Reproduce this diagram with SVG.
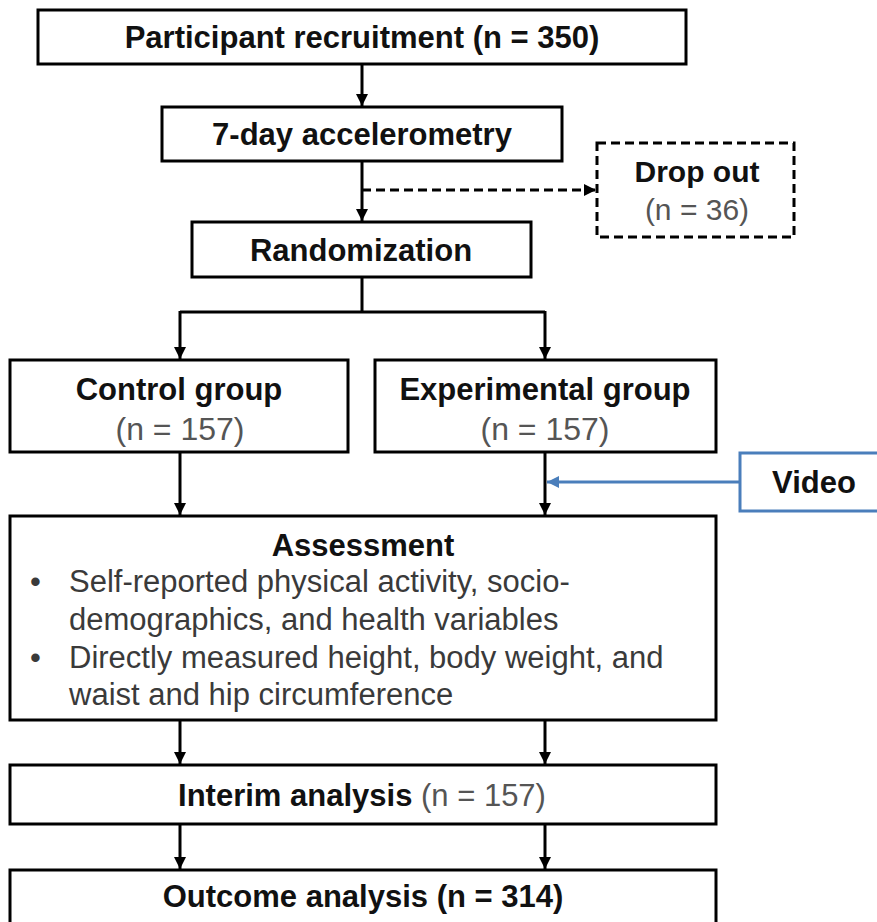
<svg xmlns="http://www.w3.org/2000/svg" width="877" height="922" viewBox="0 0 877 922">
<style>
.box{fill:#fff;stroke:#000;stroke-width:3}
.dash{fill:#fff;stroke:#000;stroke-width:3;stroke-dasharray:9 5}
.blue{fill:#fff;stroke:#4a7ebb;stroke-width:3}
.t{font-family:"Liberation Sans",Arial,sans-serif;font-weight:bold;font-size:31px;fill:#111;text-anchor:middle}
.g{font-family:"Liberation Sans",Arial,sans-serif;font-weight:normal;font-size:32px;fill:#555;text-anchor:middle}
.b{font-family:"Liberation Sans",Arial,sans-serif;font-size:31px;fill:#3a3a3a}
.c{fill:none;stroke:#000;stroke-width:3}
.cd{fill:none;stroke:#000;stroke-width:3;stroke-dasharray:9 5}
.cb{fill:none;stroke:#4a7ebb;stroke-width:3}
</style>
<defs>
<marker id="ah" markerUnits="userSpaceOnUse" markerWidth="12" markerHeight="14" refX="12" refY="6" orient="auto" viewBox="0 0 12 12">
<path d="M0,0 L12,6 L0,12 Z" fill="#000"/>
</marker>
<marker id="ahb" markerUnits="userSpaceOnUse" markerWidth="12" markerHeight="14" refX="12" refY="6" orient="auto" viewBox="0 0 12 12">
<path d="M0,0 L12,6 L0,12 Z" fill="#4a7ebb"/>
</marker>
</defs>
<g id="connectors">
<path class="c" d="M362,64 V106" marker-end="url(#ah)"/>
<path class="c" d="M362,161 V221" marker-end="url(#ah)"/>
<path class="cd" d="M362,190 H596" marker-end="url(#ah)"/>
<path class="c" d="M362,277 V312 M180,312 H545"/>
<path class="c" d="M180,311 V359" marker-end="url(#ah)"/>
<path class="c" d="M545,311 V359" marker-end="url(#ah)"/>
<path class="c" d="M180,452 V515" marker-end="url(#ah)"/>
<path class="c" d="M545,452 V515" marker-end="url(#ah)"/>
<path class="cb" d="M740,482 H547" marker-end="url(#ahb)"/>
<path class="c" d="M180,720 V764" marker-end="url(#ah)"/>
<path class="c" d="M545,720 V764" marker-end="url(#ah)"/>
<path class="c" d="M180,824 V869" marker-end="url(#ah)"/>
<path class="c" d="M545,824 V869" marker-end="url(#ah)"/>
</g>
<g id="recruitment">
<rect class="box" x="38" y="10" width="648" height="54"/>
<text class="t" x="362" y="48">Participant recruitment (n = 350)</text>
</g>
<g id="accelerometry">
<rect class="box" x="162" y="107" width="400" height="54"/>
<text class="t" x="362" y="145">7-day accelerometry</text>
</g>
<g id="dropout">
<rect class="dash" x="597" y="143" width="197" height="94"/>
<text class="t" x="697" y="182" style="font-size:30px">Drop out</text>
<text class="g" x="697" y="220" style="font-size:30px">(n = 36)</text>
</g>
<g id="randomization">
<rect class="box" x="192" y="222" width="339" height="55"/>
<text class="t" x="361" y="261">Randomization</text>
</g>
<g id="control">
<rect class="box" x="10" y="360" width="338" height="92"/>
<text class="t" x="179" y="400">Control group</text>
<text class="g" x="180" y="440">(n = 157)</text>
</g>
<g id="experimental">
<rect class="box" x="375" y="360" width="341" height="92"/>
<text class="t" x="545" y="400">Experimental group</text>
<text class="g" x="545" y="440">(n = 157)</text>
</g>
<g id="video">
<rect class="blue" x="740" y="453" width="160" height="58"/>
<text class="t" x="814" y="493">Video</text>
</g>
<g id="assessment">
<rect class="box" x="10" y="516" width="706" height="204"/>
<text class="t" x="363" y="556">Assessment</text>
<text class="b" x="30" y="592">•</text>
<text class="b" x="69" y="592">Self-reported physical activity, socio-</text>
<text class="b" x="69" y="630">demographics, and health variables</text>
<text class="b" x="30" y="668">•</text>
<text class="b" x="69" y="668">Directly measured height, body weight, and</text>
<text class="b" x="69" y="705">waist and hip circumference</text>
</g>
<g id="interim">
<rect class="box" x="10" y="765" width="706" height="59"/>
<text class="t" x="362" y="806">Interim analysis <tspan style="font-weight:normal;fill:#555">(n = 157)</tspan></text>
</g>
<g id="outcome">
<rect class="box" x="10" y="870" width="706" height="70"/>
<text class="t" x="363" y="907">Outcome analysis (n = 314)</text>
</g>
</svg>
